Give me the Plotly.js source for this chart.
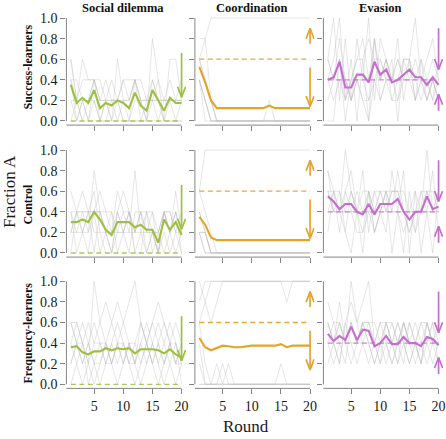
<!DOCTYPE html>
<html>
<head>
<meta charset="utf-8">
<script src="https://cdn.plot.ly/plotly-3.0.1.min.js"></script>
<style>
  html, body { margin: 0; padding: 0; background: #ffffff; }
  #chart { width: 446px; height: 439px; }
</style>
</head>
<body>
<div id="chart"></div>
<script>
// Rounds of play
const rounds = [1, 2, 3, 4, 5, 6, 7, 8, 9, 10, 11, 12, 13, 14, 15, 16, 17, 18, 19, 20];

const games = ["Social dilemma", "Coordination", "Evasion"];
const conditions = ["Success-learners", "Control", "Frequency-learners"];

// Individual groups: one string per group, one digit per round
// (number of the five players choosing A).
const groupsSocialSuccess = [
  "31322010310210420331", "20102121011201211112", "22112111121210210111", "11011010100111101101",
  "31222112111211121211", "10101001100000110000", "21112211122221111111", "01000000000000000000"
];
const groupsCoordSuccess = [
  "34555555555555555555", "44100000000000000000", "32100000000000000000", "32100000000000000000",
  "21000000000010000000", "21000000000000000000", "21000000000000000000", "20000000000000000000"
];
const groupsEvasionSuccess = [
  "23512342323123223121", "22302334332222322232", "32421221423232232222", "35141425143241352342",
  "12321211232213312121", "32212222423232221212", "21221210212112212121", "00313030412303313213"
];
const groupsSocialControl = [
  "12214210212121102121", "32222321321412112131", "21223111232121202211", "12112211112011112121",
  "22322222122122212212", "11121100111110101010", "02120210210220102101", "20102012012002010120"
];
const groupsCoordControl = [
  "35555555555555555555", "32100000000000000000", "21000000000000000000", "21000000000000000000",
  "11000000000000000000", "11000000000000000000", "10000000000000000000", "10000000000000000000"
];
const groupsEvasionControl = [
  "32253213232332122522", "43223223123242223323", "33322322332333232332", "23232233233222122223",
  "32213222223332222322", "22222112122221212222", "42310241321420313241", "13134203123024030203"
];
const groupsSocialFreq = [
  "33215321234532123211", "12321012321012321232", "21012343212101232101", "32121212121232121212",
  "01201121212123210120", "23210123432121212321", "12123211012212343212", "32232221221132101221"
];
const groupsCoordFreq = [
  "45555555555555545555", "54345555555555555555", "34555555555555555555", "31010000000000100000",
  "20001000000000000000", "10000000000000000000", "00000100000000000000", "00000000000000000000"
];
const groupsEvasionFreq = [
  "32425345213213221322", "23213232123232123231", "12322123232123232122", "32134322122321321323",
  "21223232212123212232", "43323233233212322321", "22132221221232121212", "32321233323323223322"
];

// Mean fraction of A choices per round
const meanSocialSuccess = [0.35, 0.175, 0.225, 0.175, 0.3, 0.125, 0.175, 0.15, 0.2, 0.175, 0.125, 0.275, 0.15, 0.1, 0.3, 0.2, 0.1, 0.225, 0.175, 0.175];
const meanCoordSuccess = [0.525, 0.375, 0.2, 0.125, 0.125, 0.125, 0.125, 0.125, 0.125, 0.125, 0.125, 0.125, 0.15, 0.125, 0.125, 0.125, 0.125, 0.125, 0.125, 0.125];
const meanEvasionSuccess = [0.4, 0.425, 0.575, 0.325, 0.325, 0.45, 0.45, 0.375, 0.575, 0.45, 0.5, 0.375, 0.4, 0.45, 0.5, 0.425, 0.425, 0.35, 0.425, 0.35];
const meanSocialControl = [0.3, 0.3, 0.325, 0.3, 0.4, 0.325, 0.225, 0.175, 0.3, 0.3, 0.3, 0.25, 0.275, 0.225, 0.225, 0.1, 0.325, 0.225, 0.3, 0.175];
const meanCoordControl = [0.35, 0.275, 0.15, 0.125, 0.125, 0.125, 0.125, 0.125, 0.125, 0.125, 0.125, 0.125, 0.125, 0.125, 0.125, 0.125, 0.125, 0.125, 0.125, 0.125];
const meanEvasionControl = [0.55, 0.5, 0.425, 0.475, 0.475, 0.4, 0.375, 0.475, 0.375, 0.475, 0.475, 0.475, 0.525, 0.4, 0.325, 0.4, 0.4, 0.55, 0.425, 0.45];
const meanSocialFreq = [0.36, 0.37, 0.31, 0.29, 0.32, 0.32, 0.35, 0.33, 0.35, 0.34, 0.35, 0.3, 0.34, 0.34, 0.34, 0.33, 0.3, 0.34, 0.29, 0.26];
const meanCoordFreq = [0.45, 0.36, 0.33, 0.35, 0.375, 0.37, 0.36, 0.36, 0.37, 0.375, 0.375, 0.375, 0.375, 0.375, 0.39, 0.36, 0.375, 0.375, 0.375, 0.375];
const meanEvasionFreq = [0.49, 0.42, 0.47, 0.43, 0.56, 0.43, 0.53, 0.52, 0.37, 0.4, 0.47, 0.39, 0.39, 0.46, 0.4, 0.4, 0.37, 0.46, 0.44, 0.38];

// Equilibrium level of each game (dashed line)
const equilibrium = [0.0, 0.6, 0.4];

// Direction-of-motion arrows drawn at the last round: [from, to]
const arrowsSocial = [[0.66, 0.23]];
const arrowsCoord = [[0.75, 0.9], [0.52, 0.14]];
const arrowsEvasion = [[0.9, 0.5], [0.1, 0.26]];

const yTicks = [0, 0.2, 0.4, 0.6, 0.8, 1.0];
const xTicks = [5, 10, 15, 20];

const gameColors = ["#9dc13f", "#e4a42a", "#c56ecf"];
const dashColors = ["rgba(157,193,63,0.85)", "rgba(228,164,42,0.95)", "rgba(197,110,207,0.8)"];

const panels = [
  [groupsSocialSuccess, meanSocialSuccess], [groupsCoordSuccess, meanCoordSuccess], [groupsEvasionSuccess, meanEvasionSuccess],
  [groupsSocialControl, meanSocialControl], [groupsCoordControl, meanCoordControl], [groupsEvasionControl, meanEvasionControl],
  [groupsSocialFreq, meanSocialFreq], [groupsCoordFreq, meanCoordFreq], [groupsEvasionFreq, meanEvasionFreq]
];
const arrowsByGame = [arrowsSocial, arrowsCoord, arrowsEvasion];

// Page geometry (pixels)
const W = 446, H = 439;
const colLeft = [66.4, 194.9, 323.4], colWidth = 119.6;
const rowTop = [13.9, 145.9, 277.2], rowHeight = 111.2;
const xRange = [0.24, 20.76], yRange = [-0.04, 1.04];

const serif = "Liberation Serif, Times New Roman, serif";
const axisGrey = "#858585";

function xPx(c, v) { return colLeft[c] + (v - xRange[0]) / (xRange[1] - xRange[0]) * colWidth; }
function yPx(r, v) { return rowTop[r] + (yRange[1] - v) / (yRange[1] - yRange[0]) * rowHeight; }
const pxPerRound = colWidth / (xRange[1] - xRange[0]);
const pxPerUnit = rowHeight / (yRange[1] - yRange[0]);

const traces = [];
const layout = {
  width: W, height: H,
  margin: { l: 0, r: 0, t: 0, b: 0 },
  paper_bgcolor: "#ffffff", plot_bgcolor: "rgba(0,0,0,0)",
  showlegend: false,
  font: { family: serif, color: "#1a1a1a" },
  shapes: [], annotations: []
};

for (let p = 0; p < 9; p++) {
  const r = Math.floor(p / 3), c = p % 3;
  const id = p === 0 ? "" : String(p + 1);
  const xa = "x" + id, ya = "y" + id;
  const [groups, mean] = panels[p];

  groups.forEach(function (g) {
    traces.push({
      x: rounds, y: g.split("").map(function (d) { return Number(d) / 5; }),
      xaxis: xa, yaxis: ya, mode: "lines", hoverinfo: "skip",
      line: { color: "rgba(190,190,190,0.38)", width: 1 }
    });
  });

  traces.push({
    x: [rounds[0], rounds[rounds.length - 1]], y: [equilibrium[c], equilibrium[c]],
    xaxis: xa, yaxis: ya, mode: "lines", hoverinfo: "skip",
    line: { color: dashColors[c], width: 1.3, dash: "5px,3.5px" }
  });

  traces.push({
    x: rounds, y: mean, xaxis: xa, yaxis: ya, mode: "lines",
    line: { color: gameColors[c], width: 2.1 }
  });

  const hx = 4 / pxPerRound, hy = 10.5 / pxPerUnit;
  const xEnd = rounds[rounds.length - 1];
  arrowsByGame[c].forEach(function (a) {
    const dir = a[1] > a[0] ? 1 : -1;
    traces.push({
      x: [xEnd, xEnd, null, xEnd - hx, xEnd, xEnd + hx],
      y: [a[0], a[1], null, a[1] - dir * hy, a[1], a[1] - dir * hy],
      xaxis: xa, yaxis: ya, mode: "lines", hoverinfo: "skip",
      line: { color: gameColors[c], width: 1.7 }
    });
  });

  layout["xaxis" + id] = {
    domain: [colLeft[c] / W, (colLeft[c] + colWidth) / W],
    range: xRange, anchor: ya, fixedrange: true,
    tickmode: "array", tickvals: xTicks, ticktext: xTicks.map(String),
    showticklabels: r === 2, ticks: "outside", ticklen: 5, tickwidth: 1, tickcolor: axisGrey,
    showgrid: false, zeroline: false, showline: false,
    tickfont: { family: serif, size: 14, color: "#1a1a1a" }
  };
  layout["yaxis" + id] = {
    domain: [1 - (rowTop[r] + rowHeight) / H, 1 - rowTop[r] / H],
    range: yRange, anchor: xa, fixedrange: true,
    tickmode: "array", tickvals: yTicks, ticktext: yTicks.map(function (v) { return v.toFixed(1); }),
    showticklabels: c === 0, ticks: "outside", ticklen: 5, tickwidth: 1, tickcolor: axisGrey,
    showgrid: false, zeroline: false, showline: false,
    tickfont: { family: serif, size: 14, color: "#1a1a1a" }
  };

  // axis lines: y from 0 to 1, x from the panel edge to the last round
  layout.shapes.push({
    type: "line", xref: "paper", yref: "paper",
    x0: colLeft[c] / W, x1: colLeft[c] / W,
    y0: 1 - yPx(r, 0) / H, y1: 1 - yPx(r, 1) / H,
    line: { color: axisGrey, width: 1 }
  });
  layout.shapes.push({
    type: "line", xref: "paper", yref: "paper",
    x0: colLeft[c] / W, x1: xPx(c, xEnd) / W,
    y0: 1 - (rowTop[r] + rowHeight) / H, y1: 1 - (rowTop[r] + rowHeight) / H,
    line: { color: axisGrey, width: 1 }
  });
}

// Column titles
const titleX = [123, 251.5, 379.5];
games.forEach(function (g, c) {
  layout.annotations.push({
    text: "<b>" + g + "</b>", xref: "paper", yref: "paper",
    x: titleX[c] / W, y: 1 - 8 / H, xanchor: "center", yanchor: "middle",
    showarrow: false, font: { family: serif, size: 12.5, color: "#111" }
  });
});

// Row labels
const rowLabelY = [67, 205, 333];
conditions.forEach(function (t, r) {
  layout.annotations.push({
    text: "<b>" + t + "</b>", xref: "paper", yref: "paper",
    x: 27.5 / W, y: 1 - rowLabelY[r] / H, xanchor: "center", yanchor: "middle",
    textangle: -90, showarrow: false, font: { family: serif, size: 12, color: "#111" }
  });
});

layout.annotations.push({
  text: "Fraction A", xref: "paper", yref: "paper",
  x: 9 / W, y: 1 - 192 / H, xanchor: "center", yanchor: "middle",
  textangle: -90, showarrow: false, font: { family: serif, size: 17, color: "#1a1a1a" }
});
layout.annotations.push({
  text: "Round", xref: "paper", yref: "paper",
  x: 246 / W, y: 1 - 426 / H, xanchor: "center", yanchor: "middle",
  showarrow: false, font: { family: serif, size: 17, color: "#1a1a1a" }
});

Plotly.newPlot("chart", traces, layout, { displayModeBar: false, staticPlot: true });
</script>
</body>
</html>
